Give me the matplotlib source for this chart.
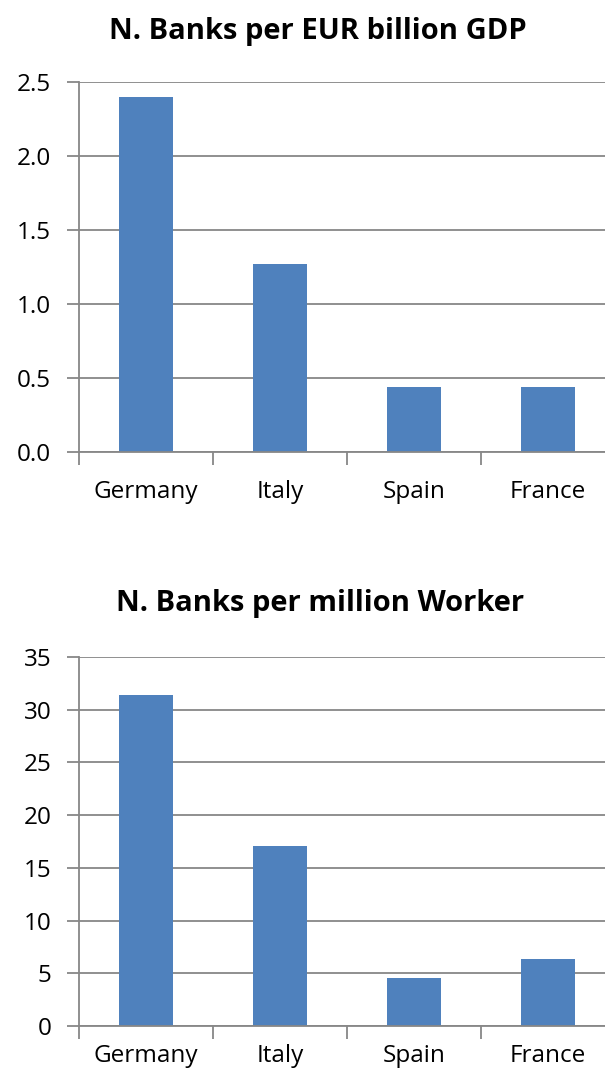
import numpy as np
import matplotlib
matplotlib.use("Agg")
import matplotlib.pyplot as plt

plt.rcParams['font.family'] = ['Open Sans', 'DejaVu Sans']

countries = ["Germany", "Italy", "Spain", "France"]
banks_per_gdp = [2.40, 1.27, 0.44, 0.44]
banks_per_worker = [31.4, 17.1, 4.6, 6.4]

gdp_ticks = [0.0, 0.5, 1.0, 1.5, 2.0, 2.5]
gdp_tick_labels = ["0.0", "0.5", "1.0", "1.5", "2.0", "2.5"]
worker_ticks = [0, 5, 10, 15, 20, 25, 30, 35]

BAR_COLOR = "#4F81BD"
AXIS_GRAY = "#878787"
LABEL_SIZE = 17.5


def draw_panel(ax, values, yticks, ylabels, xpad):
    x = np.arange(len(countries))
    ax.bar(x, values, width=0.4, color=BAR_COLOR, zorder=2)
    ax.set_axisbelow(True)

    ax.set_xlim(-0.5, 3.425)
    ax.set_ylim(yticks[0], yticks[-1])

    # category boundaries get the tick marks, the names sit in between
    ax.set_xticks(np.arange(len(countries)) - 0.5)
    ax.set_xticklabels([])
    ax.set_xticks(x, minor=True)
    ax.set_xticklabels(countries, minor=True)
    ax.tick_params(axis='x', which='major', length=9, width=1.3,
                   color=AXIS_GRAY, direction='out')
    ax.tick_params(axis='x', which='minor', length=0, pad=xpad,
                   labelsize=LABEL_SIZE)

    ax.set_yticks(yticks)
    ax.set_yticklabels(ylabels)
    ax.tick_params(axis='y', length=9, width=1.3, color=AXIS_GRAY,
                   direction='out', pad=11, labelsize=LABEL_SIZE)

    ax.yaxis.grid(True, color=AXIS_GRAY, linewidth=1.3)
    for side in ['top', 'right']:
        ax.spines[side].set_visible(False)
    for side in ['left', 'bottom']:
        ax.spines[side].set_color(AXIS_GRAY)
        ax.spines[side].set_linewidth(1.3)
        ax.spines[side].set_zorder(3)


fig = plt.figure(figsize=(6.05, 10.76), dpi=100)

ax_top = fig.add_axes([79 / 605, 1 - 452 / 1076, 526 / 605, 370 / 1076])
draw_panel(ax_top, banks_per_gdp, gdp_ticks, gdp_tick_labels, xpad=20)

ax_bot = fig.add_axes([79 / 605, 1 - 1026 / 1076, 526 / 605, 369 / 1076])
draw_panel(ax_bot, banks_per_worker, worker_ticks,
           [str(t) for t in worker_ticks], xpad=13)

fig.text(318 / 605, 1 - 32 / 1076, "N. Banks per EUR billion GDP",
         ha='center', va='center', fontsize=21, fontweight='bold')
fig.text(320 / 605, 1 - 603 / 1076, "N. Banks per million Worker",
         ha='center', va='center', fontsize=21, fontweight='bold')

fig.savefig("out.png", dpi=100)
